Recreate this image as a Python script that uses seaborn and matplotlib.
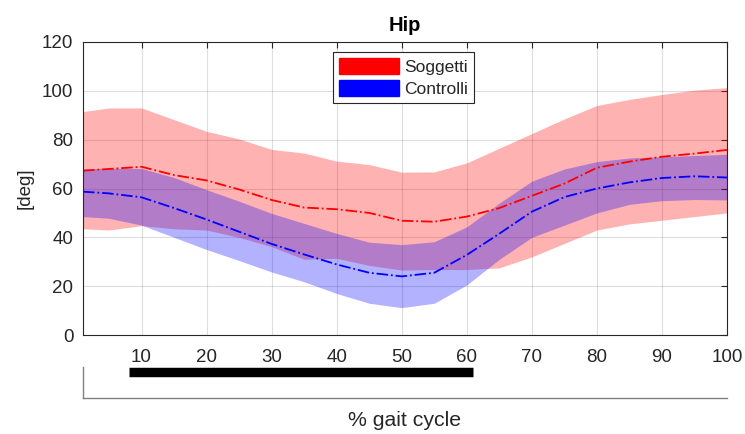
import numpy as np
import pandas as pd
import matplotlib
matplotlib.use("Agg")
import matplotlib.pyplot as plt
import seaborn as sns
from matplotlib.patches import Patch

# ---- data ----
x = [1, 5, 10, 15, 20, 25, 30, 35, 40, 45, 50, 55, 60, 65, 70, 75, 80, 85, 90, 95, 100]

sogg_mean = [67.3, 68.0, 68.9, 65.5, 63.3, 59.6, 55.3, 52.2, 51.5, 50.0, 46.8, 46.4, 48.5, 52.0, 57.0, 62.0, 68.5, 71.0, 73.0, 74.3, 75.8]
sogg_hi = [91.5, 93.0, 93.0, 88.2, 83.4, 80.3, 76.0, 74.5, 71.2, 69.8, 66.7, 66.8, 70.5, 76.5, 82.5, 88.5, 94.0, 96.5, 98.5, 100.3, 101.3]
sogg_lo = [43.5, 43.0, 44.8, 43.5, 43.0, 40.0, 36.2, 31.0, 31.4, 28.5, 26.6, 26.8, 26.8, 27.5, 32.0, 37.5, 43.0, 45.5, 47.0, 48.5, 50.0]

ctrl_mean = [58.7, 58.0, 56.4, 52.0, 47.3, 42.3, 37.3, 33.0, 28.9, 25.5, 24.0, 25.5, 32.8, 41.5, 50.5, 56.5, 60.0, 62.5, 64.3, 65.0, 64.5]
ctrl_hi = [68.0, 68.3, 68.2, 64.5, 59.5, 54.8, 49.8, 45.7, 41.6, 38.0, 37.0, 38.2, 44.3, 54.0, 63.0, 68.0, 71.0, 72.5, 73.0, 73.5, 74.0]
ctrl_lo = [48.5, 47.8, 45.0, 40.0, 35.0, 30.5, 25.8, 21.8, 17.0, 13.0, 11.2, 13.0, 20.5, 31.0, 40.0, 45.0, 50.0, 53.5, 55.0, 55.5, 55.3]

bar_range = [8, 61]
series_names = ["Soggetti", "Controlli"]
xticks = [10, 20, 30, 40, 50, 60, 70, 80, 90, 100]
yticks = [0, 20, 40, 60, 80, 100, 120]

# ---- style ----
sns.set_style("white")
plt.rcParams["font.family"] = ["Liberation Sans", "DejaVu Sans"]
txt = "#262626"

df = pd.concat([
    pd.DataFrame({"x": x, "y": sogg_mean, "group": series_names[0]}),
    pd.DataFrame({"x": x, "y": ctrl_mean, "group": series_names[1]}),
])

fig = plt.figure(figsize=(7.45, 4.34), dpi=100)
ax = fig.add_axes([83/745, 1-335/434, (727-83)/745, (335-42)/434])

ax.fill_between(x, sogg_lo, sogg_hi, color="red", alpha=0.3, linewidth=0)
ax.fill_between(x, ctrl_lo, ctrl_hi, color="blue", alpha=0.3, linewidth=0)

sns.lineplot(data=df, x="x", y="y", hue="group", palette=["red", "blue"],
             ax=ax, legend=False, linewidth=1.3)
for ln in ax.get_lines():
    ln.set_linestyle("-.")

ax.set_xlim(1, 100)
ax.set_ylim(0, 120)
ax.set_xticks(xticks)
ax.set_yticks(yticks)
ax.grid(True, color=txt, alpha=0.15, linewidth=0.8)
ax.tick_params(axis="both", direction="in", length=4, colors=txt, labelsize=13.5,
               top=True, right=True, width=0.8)
ax.tick_params(axis="x", pad=10)
ax.tick_params(axis="y", pad=7)
for s in ax.spines.values():
    s.set_color(txt)
    s.set_linewidth(0.8)
ax.set_xlabel("")
ax.set_ylabel("[deg]", fontsize=13.5, color=txt, labelpad=6)
ax.set_title("Hip", fontsize=14.5, fontweight="bold", pad=8, color="black")

handles = [Patch(facecolor="red", edgecolor="red"), Patch(facecolor="blue", edgecolor="blue")]
leg = ax.legend(handles, series_names, loc="upper left", bbox_to_anchor=((333-83)/644, 1-(52-42)/293),
                fontsize=12.5, frameon=True, fancybox=False, framealpha=1, edgecolor=txt,
                handlelength=3.45, handleheight=1.05, borderpad=0.35, labelspacing=0.3,
                handletextpad=0.3, borderaxespad=0)
leg.get_frame().set_linewidth(0.8)

# lower bar axes
ax2 = fig.add_axes([83/745, 1-398/434, (727-83)/745, (398-367)/434])
ax2.set_xlim(1, 100)
ax2.set_ylim(0, 1)
ax2.plot(bar_range, [0.85, 0.85], color="black", linewidth=6.8, solid_capstyle="butt")
ax2.set_xticks([])
ax2.set_yticks([])
ax2.spines["top"].set_visible(False)
ax2.spines["right"].set_visible(False)
for s in ["left", "bottom"]:
    ax2.spines[s].set_color("#808080")
    ax2.spines[s].set_linewidth(1.0)
ax2.patch.set_alpha(0)

fig.text(405/745, 1-421/434, "% gait cycle", ha="center", va="center", fontsize=15.3, color=txt)

fig.savefig("out.png", dpi=100)
